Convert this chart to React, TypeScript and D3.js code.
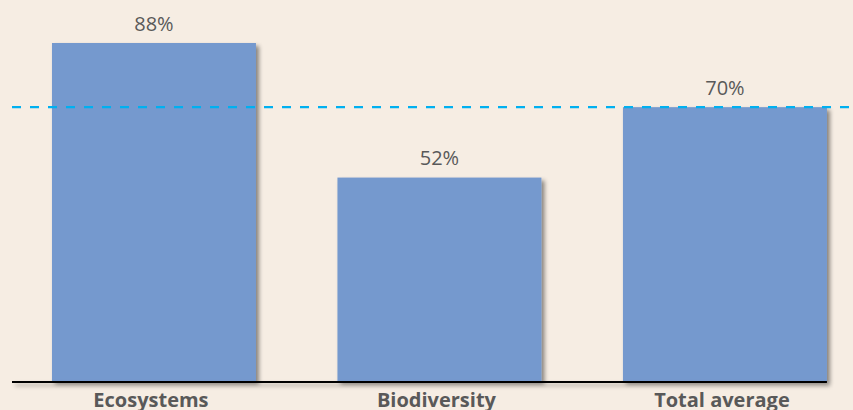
import React from "react";
import * as d3 from "d3";

const categories = ["Ecosystems", "Biodiversity", "Total average"];
const values = [88, 52, 70];
const valueLabels = ["88%", "52%", "70%"];
const averageValue = 70;
const yAxisMax = 86.4; // plot area top (tallest bar is clipped there)

const W = 853;
const H = 410;
const BG = "#f6ede3";
const BAR = "#7599ce";
const TEXT = "#595959";
const DASH = "#00b0f0";

export default function App() {
  const x = d3
    .scaleBand<string>()
    .domain(categories)
    .range([12, 866.9])
    .paddingInner(0.2855)
    .paddingOuter(0.14);
  const y = d3.scaleLinear().domain([0, yAxisMax]).range([381, 43]).clamp(true);

  const lastEnd = (x(categories[categories.length - 1]) ?? 0) + x.bandwidth();
  const font = "'Open Sans', 'DejaVu Sans', sans-serif";
  const x0 = x.range()[0];

  return (
    <div style={{ position: "fixed", left: 0, top: 0, width: W, height: H, background: BG }}>
      <svg width={W} height={H} style={{ display: "block" }}>
        <defs>
          <filter id="shadow" filterUnits="userSpaceOnUse" x={0} y={0} width={W} height={H}>
            <feDropShadow dx="3" dy="3" stdDeviation="2" floodColor="#000" floodOpacity="0.45" />
          </filter>
          <filter id="lineShadow" filterUnits="userSpaceOnUse" x={0} y={0} width={W} height={H}>
            <feDropShadow dx="3" dy="3" stdDeviation="2" floodColor="#000" floodOpacity="0.35" />
          </filter>
        </defs>
        <rect x={0} y={0} width={W} height={H} fill={BG} />
        {categories.map((c, i) => {
          const bx = x(c) ?? 0;
          const top = y(values[i]);
          return (
            <rect
              key={c}
              x={bx}
              y={top}
              width={x.bandwidth()}
              height={y(0) - top}
              fill={BAR}
              filter="url(#shadow)"
            />
          );
        })}
        <rect
          x={x0}
          y={y(0)}
          width={lastEnd - x0}
          height={2}
          fill="#000"
          filter="url(#lineShadow)"
        />
        <line
          x1={x0}
          x2={W}
          y1={y(averageValue)}
          y2={y(averageValue)}
          stroke={DASH}
          strokeWidth={2.2}
          strokeDasharray="9,9"
        />
        {categories.map((c, i) => {
          const cx = (x(c) ?? 0) + x.bandwidth() / 2;
          return (
            <text
              key={"v" + c}
              x={cx}
              y={y(values[i]) - 12.5}
              textAnchor="middle"
              fontFamily={font}
              fontSize={20}
              fill={TEXT}
            >
              {valueLabels[i]}
            </text>
          );
        })}
        {categories.map((c) => {
          const cx = (x(c) ?? 0) + x.bandwidth() / 2;
          return (
            <text
              key={"c" + c}
              x={cx - 3}
              y={407}
              textAnchor="middle"
              fontFamily={font}
              fontSize={20}
              fontWeight="bold"
              fill={TEXT}
            >
              {c}
            </text>
          );
        })}
      </svg>
    </div>
  );
}
